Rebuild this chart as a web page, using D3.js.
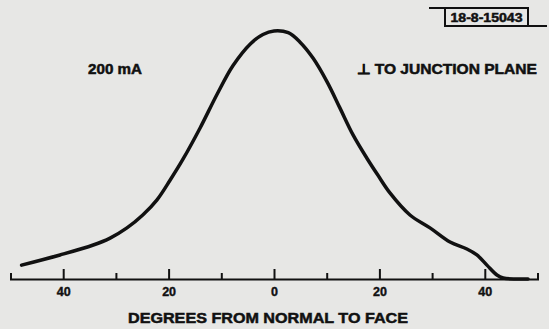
<!DOCTYPE html>
<html>
<head>
<meta charset="utf-8">
<script src="https://cdn.jsdelivr.net/npm/d3@7"></script>
<style>
  body { margin: 0; background: #e7e7e5; }
  svg { display: block; }
  text { font-family: "Liberation Sans", Arial, sans-serif; font-weight: bold; fill: #111; }
</style>
</head>
<body>
<svg width="549" height="329"></svg>
<script>
const width = 549, height = 329;

// angle from normal to face (deg, negative = left side) and relative intensity
const angles = [-47.9, -40.6, -34.3, -31.1, -27.9, -24.9, -22.2, -19.7, -17.3, -14.0, -10.8, -7.8, -4.4, -2.1, 0,
  2.7, 4.9, 7.4, 10.1, 12.5, 15.0, 17.6, 19.7, 22.0, 25.8, 29.6, 33.4, 36.6, 38.5, 40.4, 42.3, 43.5, 48.2];
const intensity = [5.6, 9.7, 13.7, 16.5, 20.6, 25.8, 31.9, 39.9, 48.2, 61.0, 74.5, 86.0, 95.0, 98.6, 100,
  99.3, 95.6, 89.1, 79.4, 69.0, 58.1, 48.8, 41.9, 34.7, 25.8, 20.6, 14.9, 12.1, 9.7, 5.6, 1.6, 0.4, 0];

const majorTicks = [-40, -20, 0, 20, 40];
const minorTicks = [-30, -10, 10, 30];

const svg = d3.select("svg");
const ink = "#111";

const x = d3.scaleLinear().domain([-50, 50]).range([10.5, 537.5]);
const y = d3.scaleLinear().domain([0, 100]).range([279, 31]);

// axis: ticks point up from the base line, labels below
const axisG = svg.append("g").attr("transform", `translate(0, ${y(0)})`);
axisG.call(d3.axisBottom(x).tickValues(majorTicks).tickSizeInner(-10).tickSizeOuter(-6)
  .tickPadding(8.5).tickFormat(d => Math.abs(d)));
axisG.select(".domain").attr("stroke", ink).attr("stroke-width", 2);
axisG.selectAll(".tick line").attr("stroke", ink).attr("stroke-width", 2);
axisG.selectAll(".tick text").attr("font-size", "12.5px").attr("font-family", "Liberation Sans, Arial, sans-serif")
  .attr("font-weight", "bold").attr("fill", ink).attr("stroke", ink).attr("stroke-width", 0.4);

const minorG = svg.append("g").attr("transform", `translate(0, ${y(0)})`);
minorG.call(d3.axisBottom(x).tickValues(minorTicks).tickSizeInner(-6).tickSizeOuter(0).tickFormat(""));
minorG.select(".domain").remove();
minorG.selectAll(".tick line").attr("stroke", ink).attr("stroke-width", 2);

// the curve
const line = d3.line()
  .x((d, i) => x(angles[i]))
  .y(d => y(d))
  .curve(d3.curveCatmullRom.alpha(0.5));

svg.append("path")
  .datum(intensity)
  .attr("fill", "none")
  .attr("stroke", ink)
  .attr("stroke-width", 3.5)
  .attr("stroke-linecap", "round")
  .attr("stroke-linejoin", "round")
  .attr("d", line);

// labels
const heavy = sel => sel.attr("stroke", ink).attr("stroke-width", 0.5);
svg.append("text").attr("x", 88).attr("y", 73.5).attr("font-size", "14px").call(heavy)
  .attr("textLength", 54).attr("lengthAdjust", "spacingAndGlyphs").text("200 mA");
svg.append("text").attr("x", 357).attr("y", 73.5).attr("font-size", "14px").call(heavy)
  .attr("textLength", 180).attr("lengthAdjust", "spacingAndGlyphs").text("\u22A5 TO JUNCTION PLANE");
svg.append("text").attr("x", 268).attr("y", 323).attr("font-size", "15px").attr("text-anchor", "middle").call(heavy)
  .attr("textLength", 280).attr("lengthAdjust", "spacingAndGlyphs").text("DEGREES FROM NORMAL TO FACE");

// figure number box
const box = svg.append("g");
box.append("rect").attr("x", 445).attr("y", 8).attr("width", 83).attr("height", 18)
  .attr("fill", "none").attr("stroke", ink).attr("stroke-width", 2);
box.append("line").attr("x1", 429).attr("x2", 445).attr("y1", 8).attr("y2", 8)
  .attr("stroke", ink).attr("stroke-width", 2);
box.append("line").attr("x1", 528).attr("x2", 547).attr("y1", 26).attr("y2", 26)
  .attr("stroke", ink).attr("stroke-width", 2);
box.append("text").attr("x", 486.5).attr("y", 22).attr("font-size", "12.5px").attr("text-anchor", "middle").call(heavy)
  .attr("textLength", 72).attr("lengthAdjust", "spacingAndGlyphs").text("18-8-15043");
</script>
</body>
</html>
